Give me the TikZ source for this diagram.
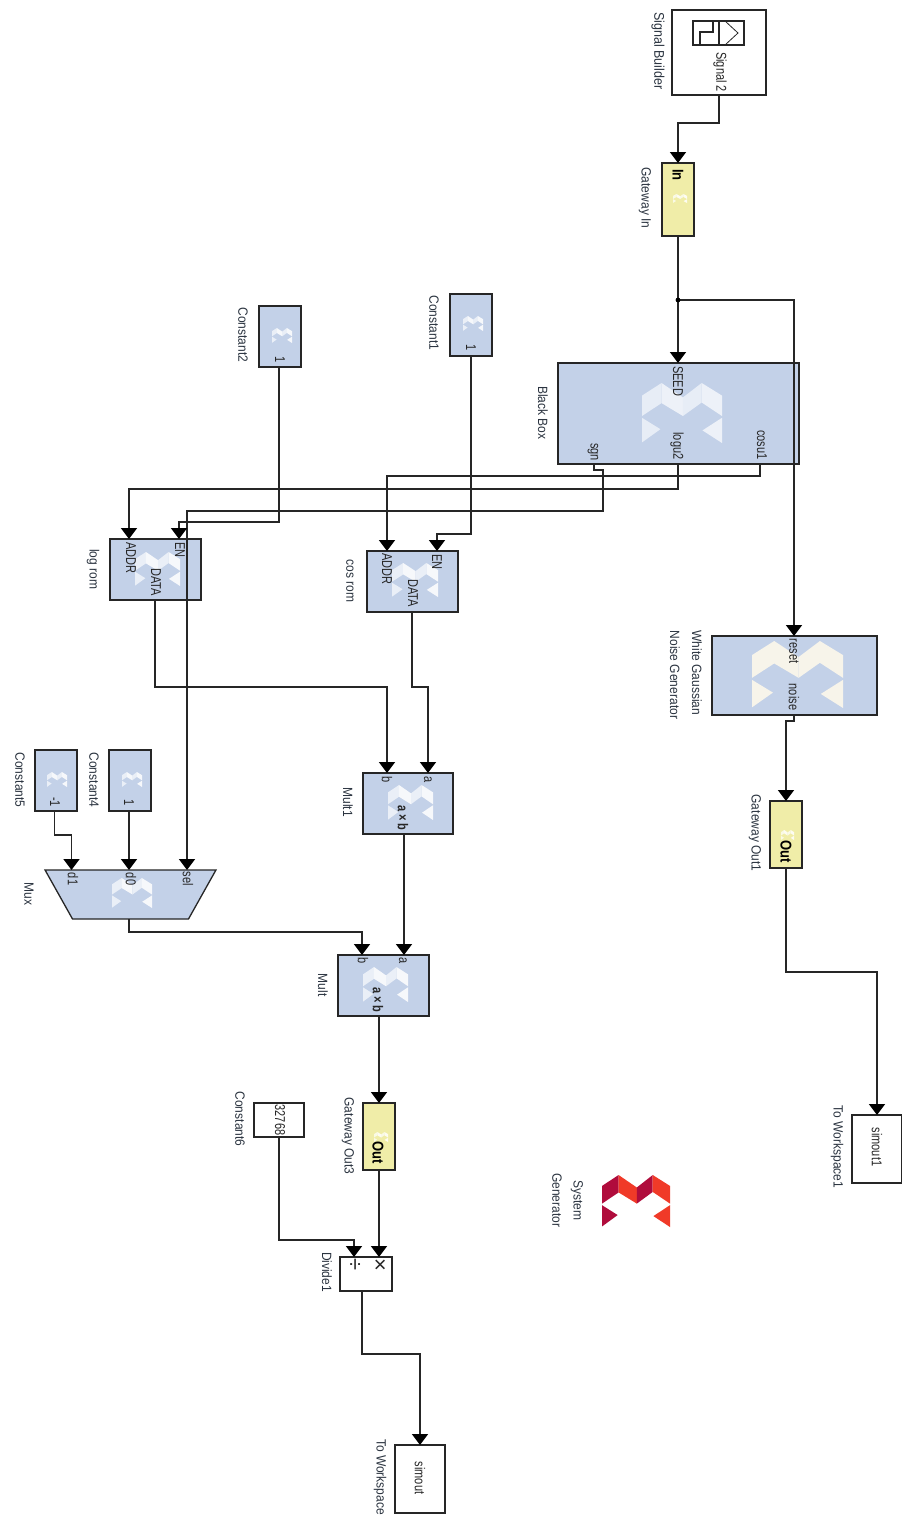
\documentclass[tikz,border=0pt]{standalone}
\usepackage{fontspec}
\setmainfont{Liberation Sans}
\usetikzlibrary{arrows.meta,shapes.geometric}
\definecolor{blk}{HTML}{C3D1E8}
\definecolor{gw}{HTML}{F0EDA8}
\definecolor{edge}{HTML}{262626}
\definecolor{ink}{HTML}{2B3440}
\definecolor{xdark}{HTML}{B00C3C}
\definecolor{xorange}{HTML}{F03A28}
\definecolor{xcream}{HTML}{F7F4EA}
\tikzset{
  boxbase/.style={draw=edge,line width=1.3pt,inner sep=0pt,outer sep=0pt},
  xblock/.style={boxbase,fill=blk},
  gateway/.style={boxbase,fill=gw},
  plain/.style={boxbase,fill=white},
  wire/.style={draw=edge,line width=1.6pt},
  arrowwire/.style={wire,-{Triangle[length=11pt,width=16pt,color=black]}},
  lab/.style={rotate=-90,yscale=1.12,transform shape,inner sep=0pt,text=ink,font=\fontsize{12}{13}\selectfont,align=center},
  port/.style={rotate=-90,yscale=1.3,transform shape,inner sep=0pt,text=black!85,font=\fontsize{11}{12}\selectfont},
  gwtext/.style={rotate=-90,yscale=1.2,transform shape,inner sep=0pt,text=black,font=\fontsize{13}{14}\selectfont\bfseries},
}
\newcommand\blk[6][xblock]{%
  \pgfmathsetmacro\bw{#5-#3}\pgfmathsetmacro\bh{#6-#4}%
  \pgfmathsetmacro\bx{(#5+#3)/2}\pgfmathsetmacro\by{(#6+#4)/2}%
  \node[#1,minimum width=\bw pt,minimum height=\bh pt] (#2) at (\bx,\by) {};}
\newcommand\xlogo[7]{%
  \pgfmathsetmacro\bw{#3-#1}\pgfmathsetmacro\bh{#4-#2}%
  \begin{scope}[shift={(#1,#2)},x=\bw pt,y=-\bh pt,fill opacity=#7]
    \fill[#5] (0,.21)--(.244,0)--(.244,.335)--(0,.55)--cycle;
    \fill[#6] (.244,0)--(.512,.24)--(.512,.55)--(.244,.335)--cycle;
    \fill[#5] (.512,.24)--(.746,0)--(.746,.325)--(.512,.55)--cycle;
    \fill[#6] (.746,0)--(1,.21)--(1,.55)--(.746,.325)--cycle;
    \fill[#5] (0,.58)--(.23,.77)--(0,.99)--cycle;
    \fill[#6] (1,.58)--(.756,.79)--(1,1)--cycle;
  \end{scope}}
\begin{document}
\begin{tikzpicture}[x=1pt,y=-1pt]
\useasboundingbox[fill=white] (0,0) rectangle (902,1515);
% blocks
\blk[plain]{sb}{672}{10}{766}{95}
\blk[gateway]{gwi}{662}{163}{694}{236}
\blk{bb}{558}{363}{799}{464}
\blk{c1}{450}{294}{492}{356}
\blk{c2}{259}{306}{301}{367}
\blk{cosrom}{367}{551}{458}{612}
\blk{logrom}{110}{539}{201}{600}
\blk{wgn}{712}{636}{877}{715}
\blk[gateway]{gwo1}{770}{801}{802}{868}
\blk{mult1}{363}{773}{453}{834}
\blk{mult}{338}{955}{429}{1016}
\blk{c4}{109}{750}{151}{811}
\blk{c5}{35}{750}{77}{811}
\node[xblock,trapezium,trapezium stretches=true,shape border rotate=180,trapezium angle=74,
  minimum width=171pt,minimum height=49pt] (mux) at (130.5,894.5) {\phantom{M}};
\blk[gateway]{gwo3}{363}{1103}{395}{1170}
\blk[plain]{c6}{254}{1103}{304}{1137}
\blk[plain]{div}{340}{1257}{392}{1291}
\blk[plain]{tw}{395}{1445}{445}{1513}
\blk[plain]{tw1}{852}{1115}{902}{1183}
% logos
\xlogo{642}{383}{722}{443}{white!60!blk}{white!70!blk}{1}
\xlogo{752}{641}{843}{708}{xcream}{xcream}{1}
\xlogo{135}{552}{180}{586}{white!65!blk}{white!85!blk}{1}
\xlogo{392}{563}{438}{597}{white!65!blk}{white!85!blk}{1}
\xlogo{388}{785}{433}{820}{white!65!blk}{white!85!blk}{1}
\xlogo{363}{967}{408}{1002}{white!65!blk}{white!85!blk}{1}
\xlogo{112}{878}{152}{908}{white!65!blk}{white!85!blk}{1}
\xlogo{47}{772}{67}{787}{white!65!blk}{white!85!blk}{1}
\xlogo{122}{772}{142}{787}{white!65!blk}{white!85!blk}{1}
\xlogo{463}{316}{483}{331}{white!65!blk}{white!85!blk}{1}
\xlogo{272}{328}{292}{343}{white!65!blk}{white!85!blk}{1}
\xlogo{673}{194}{687}{203}{white!70!gw}{white!85!gw}{1}
\xlogo{374}{1132}{388}{1142}{white!70!gw}{white!85!gw}{1}
\xlogo{781}{830}{794}{840}{white!70!gw}{white!85!gw}{1}
\xlogo{602}{1175}{670}{1227}{xdark}{xorange}{1}
% signal builder icon
\draw[edge,line width=1.1pt] (693,21) rectangle (744,45);
\draw[edge,line width=1.1pt] (719,21) -- (719,45);
\draw[edge,line width=1.1pt] (700,45) -- (700,32) -- (713,32) -- (713,21);
\draw[edge,line width=.8pt] (725,21) -- (738,33) -- (725,45);
% port coordinates
\coordinate (bb-seed) at (678,363);
\coordinate (bb-sgn) at (594,464);
\coordinate (bb-logu) at (678,464);
\coordinate (bb-cosu) at (760,464);
\coordinate (join) at (678,300);
\coordinate (wgn-reset) at (794,636);
\coordinate (wgn-noise) at (794,715);
\coordinate (cos-addr) at (387,551);
\coordinate (cos-en) at (437,551);
\coordinate (cos-data) at (412,612);
\coordinate (log-addr) at (129,539);
\coordinate (log-en) at (179,539);
\coordinate (log-data) at (155,600);
\coordinate (c1-out) at (471,356);
\coordinate (c2-out) at (279,367);
\coordinate (c4-out) at (129,811);
\coordinate (c5-out) at (54.5,811);
\coordinate (mux-d1) at (71.5,870);
\coordinate (mux-d0) at (129,870);
\coordinate (mux-sel) at (187,870);
\coordinate (mux-out) at (129,919);
\coordinate (m1-a) at (428,773);
\coordinate (m1-b) at (387,773);
\coordinate (m1-out) at (404,834);
\coordinate (m-a) at (404,955);
\coordinate (m-b) at (362,955);
\coordinate (m-out) at (379,1016);
\coordinate (c6-out) at (279,1137);
\coordinate (div-a) at (354,1257);
\coordinate (div-b) at (379,1257);
\coordinate (div-out) at (362,1291);
% connectors
\draw[arrowwire] (sb.south) -- ++(0,28) -| (gwi.north);
\draw[arrowwire] (gwi.south) -- (bb-seed);
\draw[arrowwire] (join) -| (wgn-reset);
\fill[black] (join) circle (2.4pt);
\draw[arrowwire] (bb-sgn) -- ++(0,6) -- ++(9,0) -- ++(0,41) -| (mux-sel);
\draw[arrowwire] (bb-logu) -- ++(0,25) -| (log-addr);
\draw[arrowwire] (bb-cosu) -- ++(0,12) -| (cos-addr);
\draw[arrowwire] (c1-out) -- ++(0,178) -| (cos-en);
\draw[arrowwire] (c2-out) -- ++(0,155) -| (log-en);
\draw[arrowwire] (log-data) -- ++(0,87) -| (m1-b);
\draw[arrowwire] (cos-data) -- ++(0,75) -| (m1-a);
\draw[arrowwire] (m1-out) -- (m-a);
\draw[arrowwire] (mux-out) -- ++(0,13) -| (m-b);
\draw[arrowwire] (c5-out) -- ++(0,24) -| (mux-d1);
\draw[arrowwire] (c4-out) -- (mux-d0);
\draw[arrowwire] (m-out) -- (gwo3.north);
\draw[arrowwire] (gwo3.south) -- (div-b);
\draw[arrowwire] (c6-out) -- ++(0,103) -| (div-a);
\draw[arrowwire] (div-out) -- ++(0,63) -| (tw.north);
\draw[arrowwire] (wgn-noise) -- ++(0,6) -| (gwo1.north);
\draw[arrowwire] (gwo1.south) -- ++(0,104) -| (tw1.north);
% labels
\node[lab,font=\fontsize{12.5}{13}\selectfont] (t-sb) at (658,51) {Signal Builder};
\node[port] (t-s2) at (720,72) {Signal 2};
\node[gwtext] (t-in) at (678,175) {In};
\node[lab] (t-gwi) at (645,198) {Gateway In};
\node[lab] (t-bb) at (543,413) {Black Box};
\node[port] (t-seed) at (678,381) {SEED};
\node[port] (t-sgn) at (593,452) {sgn};
\node[port] (t-logu) at (677,446) {logu2};
\node[port] (t-cosu) at (762,445) {cosu1};
\node[lab] (t-c1) at (434,323) {Constant1};
\node[port] (t-c1v) at (471,348) {1};
\node[lab] (t-c2) at (243,335) {Constant2};
\node[port] (t-c2v) at (280,360) {1};
\node[lab] (t-log) at (93,569) {log rom};
\node[lab] (t-cos) at (350,581) {cos rom};
\node[port] (t-la) at (131,558) {ADDR};
\node[port] (t-le) at (180,550) {EN};
\node[port] (t-ld) at (156,582) {DATA};
\node[port] (t-ca) at (387,569) {ADDR};
\node[port] (t-ce) at (437,562) {EN};
\node[port] (t-cd) at (413,593) {DATA};
\node[lab] (t-wgn1) at (697,673) {White Gaussian};
\node[lab] (t-wgn2) at (675,675) {Noise Generator};
\node[port] (t-reset) at (794,651) {reset};
\node[port] (t-noise) at (794,697) {noise};
\node[lab] (t-gwo1) at (755,833) {Gateway Out1};
\node[gwtext] (t-o1) at (786,852) {Out};
\node[lab] (t-m1) at (348,802) {Mult1};
\node[port] (t-m1a) at (428,780) {a};
\node[port] (t-m1b) at (387,780) {b};
\node[port,font=\fontsize{11}{12}\selectfont\bfseries] (t-m1x) at (403,818) {a × b};
\node[lab] (t-m) at (323,985) {Mult};
\node[port] (t-ma) at (403,961) {a};
\node[port] (t-mb) at (363,961) {b};
\node[port,font=\fontsize{11}{12}\selectfont\bfseries] (t-mx) at (378,1000) {a × b};
\node[lab] (t-c5) at (20,780) {Constant5};
\node[port] (t-c5v) at (55,802) {-1};
\node[lab] (t-c4) at (94,780) {Constant4};
\node[port] (t-c4v) at (129,803) {1};
\node[lab] (t-mux) at (29,894) {Mux};
\node[port] (t-d1) at (73,879) {d1};
\node[port] (t-d0) at (131,879) {d0};
\node[port] (t-sel) at (188,879) {sel};
\node[lab] (t-c6) at (240,1119) {Constant6};
\node[port] (t-c6v) at (280,1120) {32768};
\node[lab] (t-gwo3) at (348,1136) {Gateway Out3};
\node[gwtext] (t-o3) at (378,1153) {Out};
\node[lab] (t-div) at (327,1272) {Divide1};
\node[port,yscale=.77,font=\fontsize{22}{24}\selectfont] (t-dv) at (354,1265) {÷};
\node[port,yscale=.77,font=\fontsize{22}{24}\selectfont] (t-mu) at (379,1265) {×};
\node[lab] (t-sys1) at (577,1200) {System};
\node[lab] (t-sys2) at (557,1200) {Generator};
\node[lab] (t-tw) at (380,1477) {To Workspace};
\node[port] (t-s) at (420,1478) {simout};
\node[lab] (t-tw1) at (837,1147) {To Workspace1};
\node[port] (t-s1) at (877,1147) {simout1};
\end{tikzpicture}
\end{document}
